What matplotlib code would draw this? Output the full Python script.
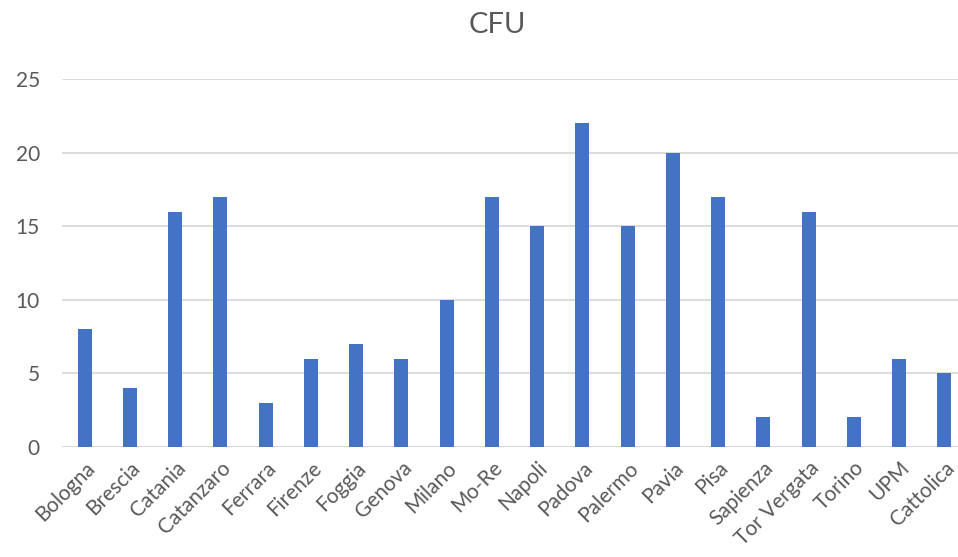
import numpy as np
import matplotlib.pyplot as plt

universities = ['Bologna', 'Brescia', 'Catania', 'Catanzaro', 'Ferrara', 'Firenze',
                'Foggia', 'Genova', 'Milano', 'Mo-Re', 'Napoli', 'Padova', 'Palermo',
                'Pavia', 'Pisa', 'Sapienza', 'Tor Vergata', 'Torino', 'UPM', 'Cattolica']
cfu = [8, 4, 16, 17, 3, 6, 7, 6, 10, 17, 15, 22, 15, 20, 17, 2, 16, 2, 6, 5]

plt.rcParams['font.family'] = ['Lato', 'DejaVu Sans']

fig = plt.figure(figsize=(9.58, 5.57), dpi=100)
ax = fig.add_axes([62.1 / 958, 0.198, 905 / 958, 0.6598])

x = np.arange(len(universities))
ax.bar(x, cfu, width=0.31, color='#4472C4', zorder=3)

ax.set_xlim(-0.5, len(universities) - 0.5)
ax.set_ylim(0, 25)
ax.set_yticks(np.arange(0, 26, 5))
ax.yaxis.grid(True, color='#d9d9d9', linewidth=1.3, zorder=0)
ax.axhline(0, color='#d9d9d9', linewidth=1.3, zorder=1)
for s in ax.spines.values():
    s.set_visible(False)
ax.tick_params(axis='both', length=0, labelsize=15, colors='#595959')
ax.tick_params(axis='y', pad=16)
ax.set_xticks(x)
ax.set_xticklabels(universities, rotation=45, ha='right', rotation_mode='anchor')
ax.tick_params(axis='x', pad=8)

fig.text(497 / 958, 1 - 25 / 557, 'CFU', ha='center', va='center', fontsize=21, color='#595959')

plt.savefig('out.png', dpi=100)
